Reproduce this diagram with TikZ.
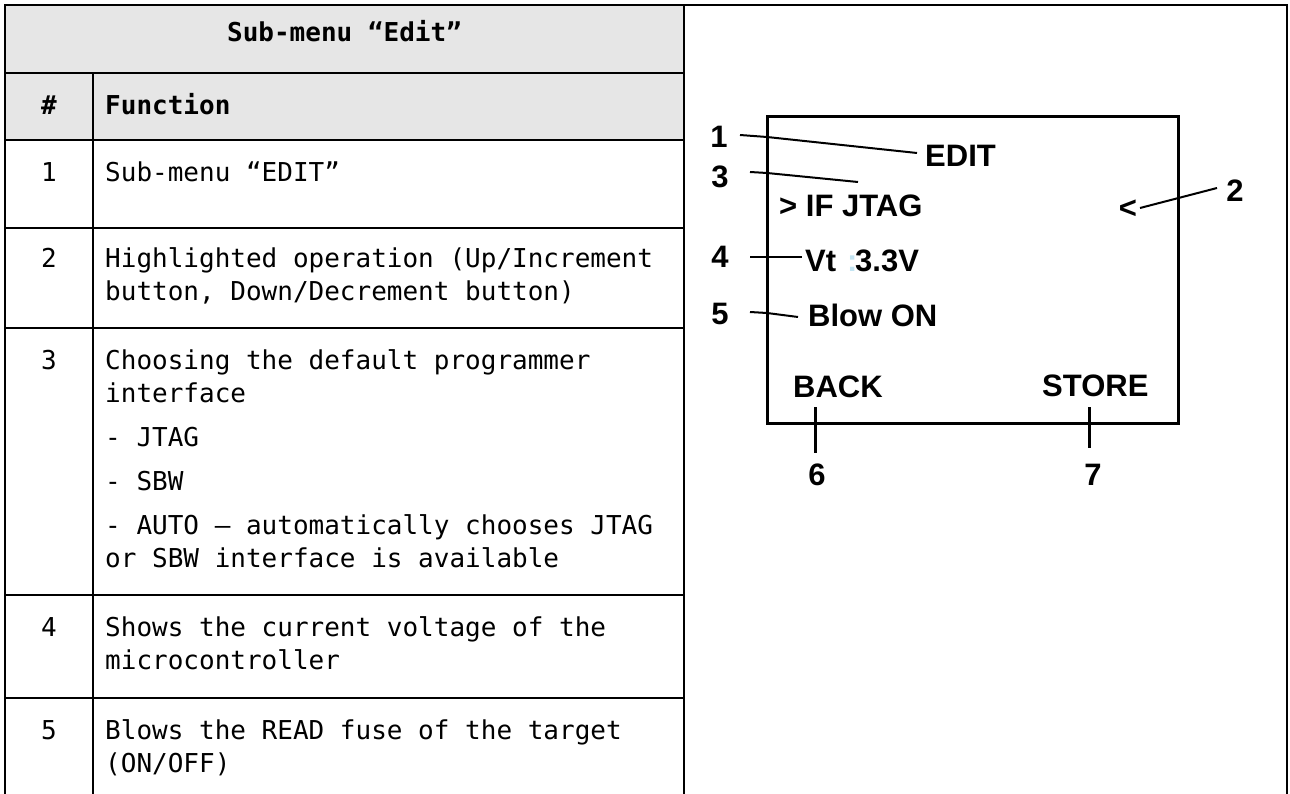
\documentclass[tikz,border=0pt]{standalone}
\usepackage{fontspec}
\newfontfamily\tabfont{DejaVu Sans Mono}
\newfontfamily\scrfont{Liberation Sans}
\definecolor{hdrgray}{RGB}{230,230,230}
\definecolor{faintcolon}{RGB}{195,228,242}
\begin{document}
\begin{tikzpicture}[x=1pt,y=-1pt,
  tline/.style={line width=2.2pt},
  cell/.style={anchor=base west,inner sep=0pt,font=\tabfont\fontsize{26}{33}\selectfont},
  hcell/.style={anchor=base west,inner sep=0pt,font=\tabfont\bfseries\fontsize{26}{33}\selectfont},
  numcell/.style={anchor=base,inner sep=0pt,font=\tabfont\fontsize{26}{33}\selectfont},
  scr/.style={anchor=base west,inner sep=0pt,font=\scrfont\bfseries\fontsize{31}{37}\selectfont},
  callout/.style={anchor=center,inner sep=0pt,font=\scrfont\bfseries\fontsize{31}{37}\selectfont},
  leader/.style={line width=2pt},
  tickline/.style={line width=3pt},
  screenbox/.style={line width=3pt}]
\useasboundingbox (0,0) rectangle (1290,794);
\fill[white] (0,0) rectangle (1290,794);
% header shading
\fill[hdrgray] (5,5) rectangle (684,140);
% table rules
\draw[tline] (5,794) -- (5,5) -- (1287,5) -- (1287,794);
\draw[tline] (684,5) -- (684,794);
\draw[tline] (93,73) -- (93,794);
\draw[tline] (5,73) -- (684,73);
\draw[tline] (5,140) -- (684,140);
\draw[tline] (5,228) -- (684,228);
\draw[tline] (5,328) -- (684,328);
\draw[tline] (5,595) -- (684,595);
\draw[tline] (5,698) -- (684,698);
% header texts
\node[hcell,anchor=base] (title) at (344.5,42) {Sub-menu “Edit”};
\node[hcell,anchor=base] (hnum) at (49,115) {\#};
\node[hcell] (hfun) at (105,115) {Function};
% row 1
\node[numcell] (n1) at (49,182) {1};
\node[cell] (t1) at (105,182) {Sub-menu “EDIT”};
% row 2
\node[numcell] (n2) at (49,268) {2};
\node[cell] (t2a) at (105,268) {Highlighted operation (Up/Increment};
\node[cell] (t2b) at (105,301) {button, Down/Decrement button)};
% row 3
\node[numcell] (n3) at (49,369) {3};
\node[cell] (t3a) at (105,369) {Choosing the default programmer};
\node[cell] (t3b) at (105,402) {interface};
\node[cell] (t3c) at (105,446) {- JTAG};
\node[cell] (t3d) at (105,490) {- SBW};
\node[cell] (t3e) at (105,534) {- AUTO – automatically chooses JTAG};
\node[cell] (t3f) at (105,567) {or SBW interface is available};
% row 4
\node[numcell] (n4) at (49,636) {4};
\node[cell] (t4a) at (105,636) {Shows the current voltage of the};
\node[cell] (t4b) at (105,669) {microcontroller};
% row 5
\node[numcell] (n5) at (49,739) {5};
\node[cell] (t5a) at (105,739) {Blows the READ fuse of the target};
\node[cell] (t5b) at (105,772) {(ON/OFF)};
% screen
\draw[screenbox] (767,117) rectangle (1178,423);
\node[scr] (sedit) at (925,167) {EDIT};
\node[scr] (sif) at (779,217) {> IF JTAG};
\node[scr] (svt) at (805,272) {Vt};
\node[scr,text=faintcolon] (scolon) at (847,272) {:};
\node[scr] (svolt) at (855,272) {3.3V};
\node[scr] (sblow) at (808,326) {Blow ON};
\node[scr] (sback) at (793,397) {BACK};
\node[scr] (sstore) at (1042,396) {STORE};
\node[callout] (slt) at (1128,209) {<};
% callout numbers
\node[callout] (c1) at (719,137) {1};
\node[callout] (c3) at (720,177) {3};
\node[callout] (c4) at (720,257) {4};
\node[callout] (c5) at (720,314) {5};
\node[callout] (c2) at (1235,191) {2};
\node[callout] (c6) at (817,475) {6};
\node[callout] (c7) at (1093,475) {7};
% leader end points
\coordinate (l1s) at (740,135);
\coordinate (l1m) at (767,137);
\coordinate (l1e) at (917,153);
\coordinate (l3s) at (750,172);
\coordinate (l3m) at (767,173);
\coordinate (l3e) at (858,182);
\coordinate (l4s) at (750,257);
\coordinate (l4e) at (802,257);
\coordinate (l5s) at (750,312);
\coordinate (l5m) at (767,313);
\coordinate (l5e) at (798,317);
\coordinate (l2s) at (1217,188);
\coordinate (l2e) at (1140,208);
\coordinate (l6s) at (815,407);
\coordinate (l6e) at (815,453);
\coordinate (l7s) at (1089,407);
\coordinate (l7e) at (1089,448);
\draw[leader] (l1s) -- (l1m) -- (l1e);
\draw[leader] (l3s) -- (l3m) -- (l3e);
\draw[leader] (l4s) -- (l4e);
\draw[leader] (l5s) -- (l5m) -- (l5e);
\draw[leader] (l2s) -- (l2e);
\draw[tickline] (l6s) -- (l6e);
\draw[tickline] (l7s) -- (l7e);
\end{tikzpicture}
\end{document}
